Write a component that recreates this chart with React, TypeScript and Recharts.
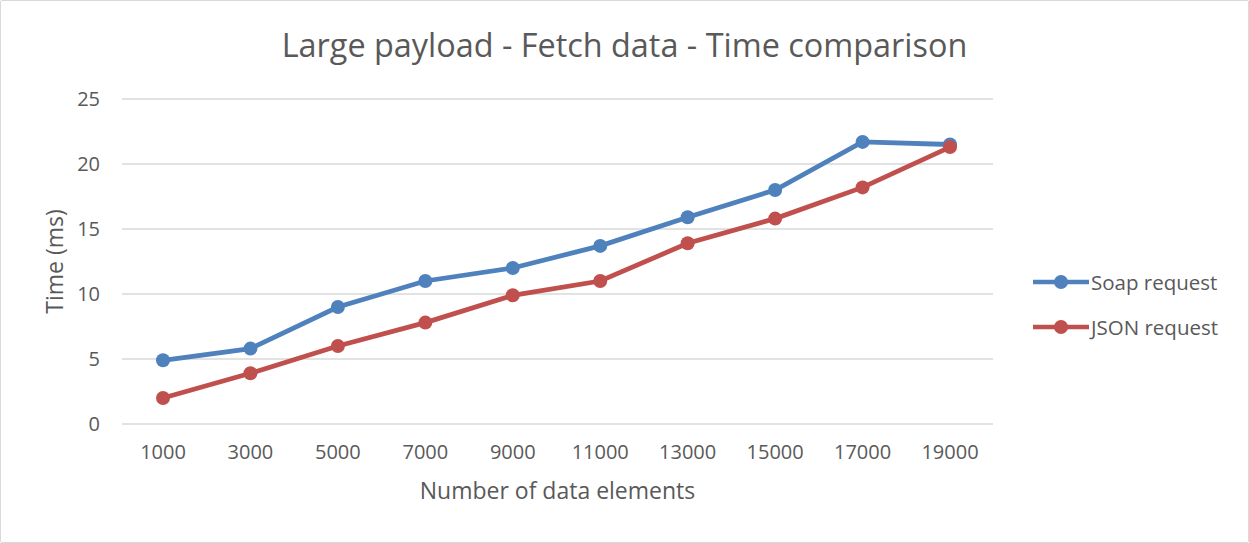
import React from 'react';
import { LineChart, Line, XAxis, YAxis, CartesianGrid } from 'recharts';

const elements = ['1000', '3000', '5000', '7000', '9000', '11000', '13000', '15000', '17000', '19000'];
const soapTimes = [4.9, 5.8, 9.0, 11.0, 12.0, 13.7, 15.9, 18.0, 21.7, 21.5];
const jsonTimes = [2.0, 3.9, 6.0, 7.8, 9.9, 11.0, 13.9, 15.8, 18.2, 21.3];
const yTicks = [0, 5, 10, 15, 20, 25];

const series = [
  { key: 'soap', name: 'Soap request', color: '#4F81BD' },
  { key: 'json', name: 'JSON request', color: '#C0504D' },
];

const data = elements.map((n, i) => ({ n, soap: soapTimes[i], json: jsonTimes[i] }));

const font = '"Open Sans", sans-serif';
const textColor = '#595959';

// legend drawn beside the chart, so it does not eat plot space
const LegendBox = () => (
  <div style={{ position: 'absolute', left: 1033, top: 268, display: 'flex', flexDirection: 'column', gap: 17 }}>
    {series.map((s) => (
      <div key={s.key} style={{ display: 'flex', alignItems: 'center', height: 28 }}>
        <svg width={56} height={16}>
          <line x1={0} y1={8} x2={56} y2={8} stroke={s.color} strokeWidth={4.5} />
          <circle cx={28} cy={8} r={7} fill={s.color} />
        </svg>
        <span style={{ fontFamily: font, fontSize: 20.5, color: textColor, marginLeft: 2 }}>{s.name}</span>
      </div>
    ))}
  </div>
);

export default function App() {
  return (
    <div style={{ position: 'fixed', left: 0, top: 0, width: 1249, height: 543, background: '#fff' }}>
      <div style={{ position: 'absolute', inset: 0, border: '1px solid #d9d9d9', borderRadius: 2, boxSizing: 'border-box' }} />
      <div style={{ position: 'absolute', left: 0, right: 0, top: 22, textAlign: 'center', fontFamily: font, fontSize: 32.4, color: textColor, lineHeight: '44px' }}>
        Large payload - Fetch data - Time comparison
      </div>
      <LineChart width={1249} height={543} data={data} margin={{ top: 99, right: 256, bottom: 0, left: 0 }}>
        <CartesianGrid vertical={false} stroke="#d9d9d9" strokeWidth={1.5} />
        <XAxis
          dataKey="n"
          padding={{ left: 41, right: 43 }}
          axisLine={false}
          tickLine={false}
          tickSize={0}
          tickMargin={21}
          height={119}
          tick={{ fill: textColor, fontSize: 20, fontFamily: font }}
          label={{ value: 'Number of data elements', position: 'insideTop', offset: 59, fill: textColor, fontSize: 23, fontFamily: font }}
        />
        <YAxis
          domain={[0, 25]}
          ticks={yTicks}
          width={122}
          axisLine={false}
          tickLine={false}
          tickSize={0}
          tickMargin={22}
          tick={{ fill: textColor, fontSize: 20, fontFamily: font }}
          label={{ value: 'Time (ms)', angle: -90, position: 'insideLeft', offset: 55, fill: textColor, fontSize: 23, fontFamily: font, style: { textAnchor: 'middle' } }}
        />
        {series.map((s) => (
          <Line
            key={s.key}
            dataKey={s.key}
            name={s.name}
            stroke={s.color}
            strokeWidth={4.8}
            dot={{ r: 7, fill: s.color, stroke: s.color, strokeWidth: 0 }}
            isAnimationActive={false}
          />
        ))}
      </LineChart>
      <LegendBox />
    </div>
  );
}
